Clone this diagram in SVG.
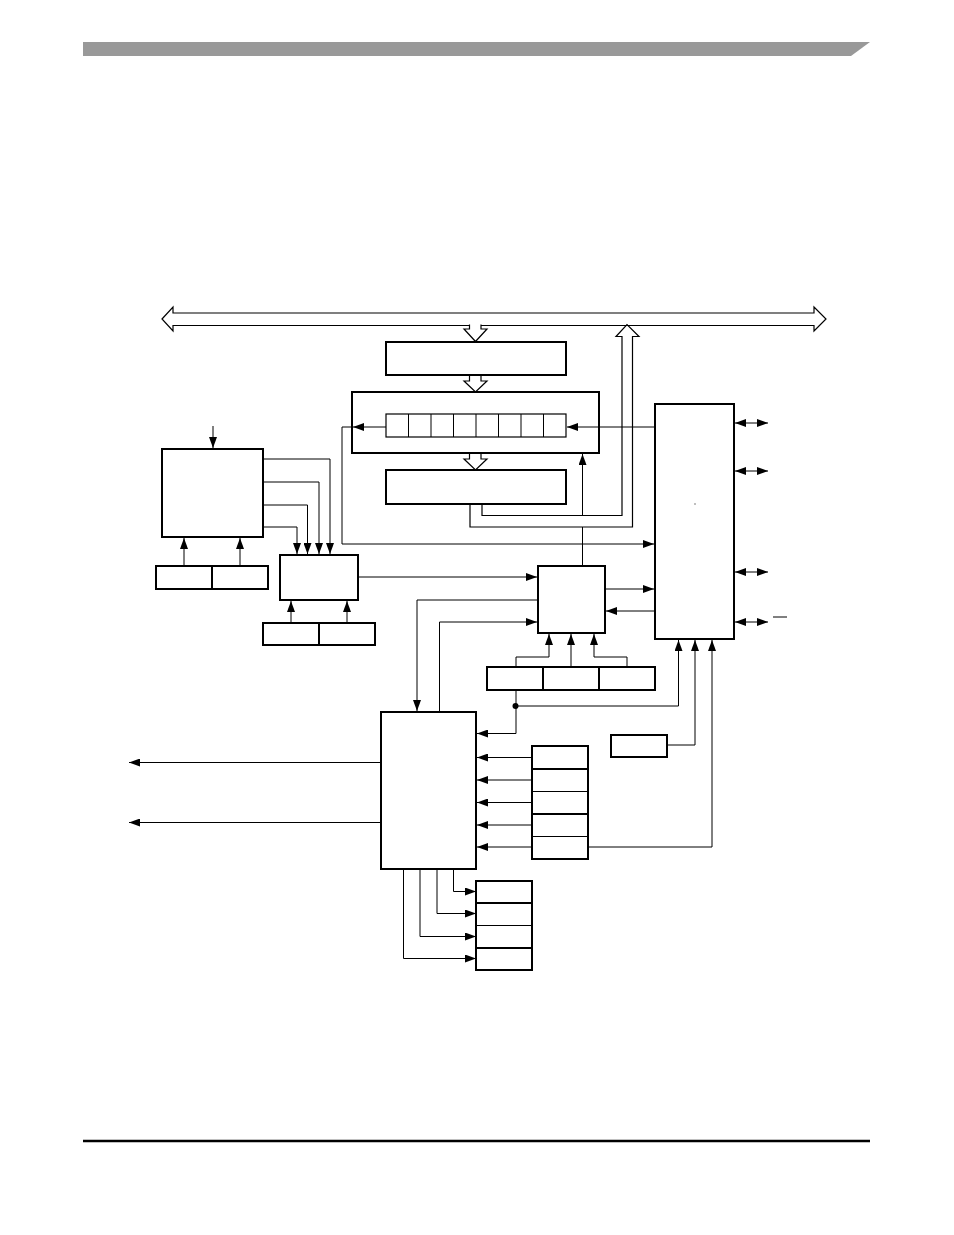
<svg xmlns="http://www.w3.org/2000/svg" width="954" height="1235" viewBox="0 0 954 1235">
<style>
.b{fill:#fff;stroke:#000;stroke-width:2}
.t{fill:none;stroke:#000;stroke-width:1}
.c{fill:none;stroke:#000;stroke-width:1.2}
.k{fill:none;stroke:#000;stroke-width:2}
.a{marker-end:url(#ah)}
.d{marker-start:url(#ah);marker-end:url(#ah)}
.h{fill:#fff;stroke:#000;stroke-width:1.2}
</style>
<defs>
<marker id="ah" markerUnits="userSpaceOnUse" markerWidth="11" markerHeight="8" refX="11" refY="4" orient="auto-start-reverse">
<path d="M0,0 L11,4 L0,8 z" fill="#000"/>
</marker>
</defs>
<rect width="954" height="1235" fill="#fff"/>
<polygon points="83,42 870,42 851,56 83,56" fill="#999"/>
<line x1="83" y1="1141" x2="870" y2="1141" stroke="#000" stroke-width="2.5"/>

<g id="bus">
<polygon class="h" points="162,319 173,307 173,313 814,313 814,307 826,319 814,331 814,325.5 173,325.5 173,331"/>
<path class="h" d="M469.5,324.5 V329 H464 L475.5,341.5 L487,329 H481 V324.5"/>
</g>
<g id="load-arrows">
<path class="h" d="M469.5,375 V381 H464 L475.5,392 L487,381 H481 V375"/>
<path class="h" d="M469.5,453 V459 H464 L475.5,470 L487,459 H481 V453"/>
<path class="c" d="M482,504 V515.5 H622 V336.5 H616 L627,324.5 L639,336.5 H632.5 V527 H470 V504" fill="none"/>
</g>

<g id="top-reg"><rect class="b" x="386" y="342" width="180" height="33"/></g>
<g id="shift-reg">
<rect class="b" x="352" y="392" width="247" height="61"/>
<rect class="c" x="386" y="414" width="180" height="23"/>
<path class="t" d="M408.5,414 V437 M431,414 V437 M453.5,414 V437 M476,414 V437 M498.5,414 V437 M521,414 V437 M543.5,414 V437"/>
</g>
<g id="low-reg"><rect class="b" x="386" y="470" width="180" height="34"/></g>
<g id="block-a"><rect class="b" x="162" y="449" width="101" height="88"/></g>
<g id="reg-a">
<rect class="b" x="156" y="566" width="56" height="23"/>
<rect class="b" x="212" y="566" width="56" height="23"/>
</g>
<g id="block-b"><rect class="b" x="280" y="555" width="78" height="45"/></g>
<g id="reg-b">
<rect class="b" x="263" y="623" width="56" height="22"/>
<rect class="b" x="319" y="623" width="56" height="22"/>
</g>
<g id="block-c"><rect class="b" x="538" y="566" width="67" height="67"/></g>
<g id="reg-c">
<rect class="b" x="487" y="667" width="56" height="23"/>
<rect class="b" x="543" y="667" width="56" height="23"/>
<rect class="b" x="599" y="667" width="56" height="23"/>
</g>
<g id="block-d">
<rect class="b" x="655" y="404" width="79" height="235"/>
<rect x="694.5" y="503.5" width="1" height="1" fill="#000"/>
</g>
<g id="block-e"><rect class="b" x="611" y="735" width="56" height="22"/></g>
<g id="block-f"><rect class="b" x="381" y="712" width="95" height="157"/></g>
<g id="stack-g">
<rect class="b" x="532" y="746" width="56" height="113"/>
<path class="k" d="M532,769 H588 M532,814 H588"/>
<path class="c" d="M532,791.5 H588 M532,836.5 H588"/>
</g>
<g id="stack-h">
<rect class="b" x="476" y="881" width="56" height="89"/>
<path class="k" d="M476,903 H532 M476,948 H532"/>
<path class="c" d="M476,925.5 H532"/>
</g>

<g id="connectors">
<path class="t a" d="M213,426 V448"/>
<path class="t a" d="M263,459 H330 V554"/>
<path class="t a" d="M263,482 H319 V554"/>
<path class="t a" d="M263,505 H307.5 V554"/>
<path class="t a" d="M263,527 H297 V554"/>
<path class="t a" d="M184,566 V538"/>
<path class="t a" d="M240,566 V538"/>
<path class="t a" d="M291,623 V601"/>
<path class="t a" d="M347,623 V601"/>
<path class="t a" d="M358,577 H537"/>
<path class="t a" d="M386,427 H353"/>
<path class="t a" d="M353,427 H342 V544 H654"/>
<path class="t a" d="M655,427 H567"/>
<path class="t" d="M582.5,566 V527"/>
<path class="t a" d="M582.5,515.5 V454"/>
<path class="t a" d="M605,589 H654"/>
<path class="t a" d="M655,611 H606"/>
<path class="t a" d="M538,600 H417 V711"/>
<path class="t a" d="M439.5,712 V622 H537"/>
<path class="t a" d="M516,667 V657 H549 V634"/>
<path class="t a" d="M571,667 V634"/>
<path class="t a" d="M627,667 V657 H594 V634"/>
<path class="t" d="M516,690 V706"/>
<circle cx="515.5" cy="706" r="3" fill="#000"/>
<path class="t a" d="M516,706 H678.5 V640"/>
<path class="t a" d="M516,706 V733.5 H477"/>
<path class="t a" d="M667,745 H695 V640"/>
<path class="t a" d="M588,847 H712 V640"/>
<path class="t a" d="M532,757.5 H477"/>
<path class="t a" d="M532,780 H477"/>
<path class="t a" d="M532,802.5 H477"/>
<path class="t a" d="M532,825 H477"/>
<path class="t a" d="M532,847 H477"/>
<path class="t a" d="M453.5,869 V891.5 H476"/>
<path class="t a" d="M437,869 V913.5 H476"/>
<path class="t a" d="M420,869 V936.5 H476"/>
<path class="t a" d="M403.5,869 V958.5 H476"/>
<path class="t a" d="M381,762.5 H129"/>
<path class="t a" d="M381,822.5 H129"/>
<path class="t d" d="M735,423 H768"/>
<path class="t d" d="M735,471 H768"/>
<path class="t d" d="M735,572 H768"/>
<path class="t d" d="M735,622 H768"/>
<path class="t" d="M773,617 H787"/>
</g>
</svg>
